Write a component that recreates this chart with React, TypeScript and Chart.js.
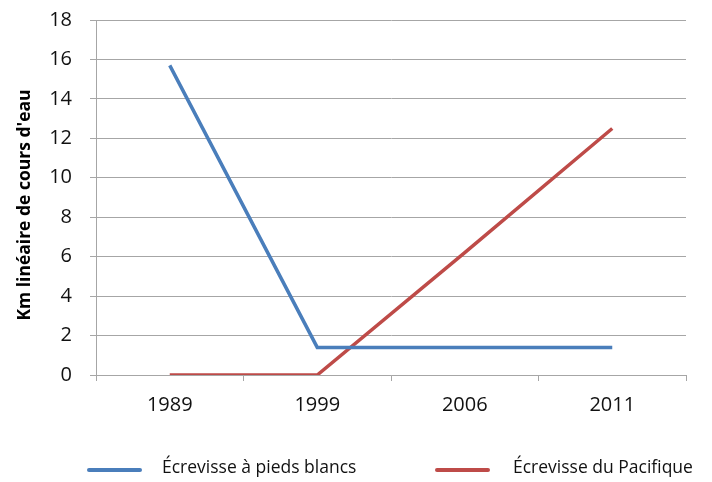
import React, { useEffect, useRef } from "react";
import { Chart, registerables } from "chart.js";

Chart.register(...registerables);

const categories = ["1989", "1999", "2006", "2011"];
const blancsValues = [15.7, 1.4, 1.4, 1.4];
const pacifiqueValues = [0, 0, 6.2, 12.5];
const seriesNames = ["Écrevisse à pieds blancs", "Écrevisse du Pacifique"];
const seriesColors = ["#4A7EBB", "#BE4B48"];
const yTitle = "Km linéaire de cours d'eau";

const FONT = "'Open Sans', 'Liberation Sans', sans-serif";
const GRID = "#a6a6a6";
const TEXT = "#111";

const legendPlugin = {
  id: "customLegend",
  afterDraw(chart: any) {
    const ctx = chart.ctx;
    const items = [
      { lineX: 89, textX: 162 },
      { lineX: 437, textX: 513 },
    ];
    const y = 470;
    ctx.save();
    chart.data.datasets.forEach((ds: any, i: number) => {
      const it = items[i];
      ctx.strokeStyle = ds.borderColor;
      ctx.lineWidth = 4;
      ctx.lineCap = "round";
      ctx.beginPath();
      ctx.moveTo(it.lineX, y);
      ctx.lineTo(it.lineX + 51, y);
      ctx.stroke();
      ctx.fillStyle = TEXT;
      ctx.font = `17.5px ${FONT}`;
      ctx.textBaseline = "middle";
      ctx.textAlign = "left";
      ctx.fillText(ds.label, it.textX, y - 2);
    });
    // y-axis title
    ctx.translate(25, 205);
    ctx.rotate(-Math.PI / 2);
    ctx.fillStyle = "#000";
    ctx.font = `bold 17.5px ${FONT}`;
    ctx.textAlign = "center";
    ctx.textBaseline = "middle";
    ctx.fillText(yTitle, 0, 0);
    ctx.restore();
  },
};

export default function App() {
  const ref = useRef<HTMLCanvasElement | null>(null);
  useEffect(() => {
    if (!ref.current) return;
    const chart = new Chart(ref.current, {
      type: "line",
      data: {
        labels: categories,
        datasets: [
          {
            label: seriesNames[0],
            data: blancsValues,
            borderColor: seriesColors[0],
            backgroundColor: seriesColors[0],
            borderWidth: 3.5,
            pointRadius: 0,
            tension: 0,
          },
          {
            label: seriesNames[1],
            data: pacifiqueValues,
            borderColor: seriesColors[1],
            backgroundColor: seriesColors[1],
            borderWidth: 3.5,
            pointRadius: 0,
            tension: 0,
          },
        ],
      },
      options: {
        animation: false,
        responsive: false,
        maintainAspectRatio: false,
        layout: { padding: { left: 0, right: 26, top: 20, bottom: 57 } },
        plugins: {
          legend: { display: false },
          tooltip: { enabled: false },
        },
        scales: {
          x: {
            offset: true,
            grid: {
              offset: true,
              drawOnChartArea: false,
              drawTicks: true,
              tickLength: 6,
              color: GRID,
              lineWidth: 1,
            },
            border: { color: GRID, width: 1 },
            ticks: {
              color: TEXT,
              font: { family: FONT, size: 20 },
              padding: 12,
            },
            afterFit: (s: any) => {
              s.height = 50;
              s.paddingLeft = 0;
              s.paddingRight = 0;
            },
          },
          y: {
            min: 0,
            max: 18,
            ticks: {
              stepSize: 2,
              color: TEXT,
              font: { family: FONT, size: 20 },
              padding: 18,
            },
            grid: { color: GRID, lineWidth: 1, tickLength: 6 },
            border: { color: GRID, width: 1 },
            title: { display: false },
            afterFit: (s: any) => {
              s.width = 96;
              s.paddingTop = 0;
              s.paddingBottom = 0;
            },
          },
        },
      },
      plugins: [legendPlugin],
    });
    return () => chart.destroy();
  }, []);
  return (
    <div style={{ position: "fixed", left: 0, top: 0, width: 712, height: 482, background: "#fff" }}>
      <canvas ref={ref} width={712} height={482} style={{ width: 712, height: 482 }} />
    </div>
  );
}
